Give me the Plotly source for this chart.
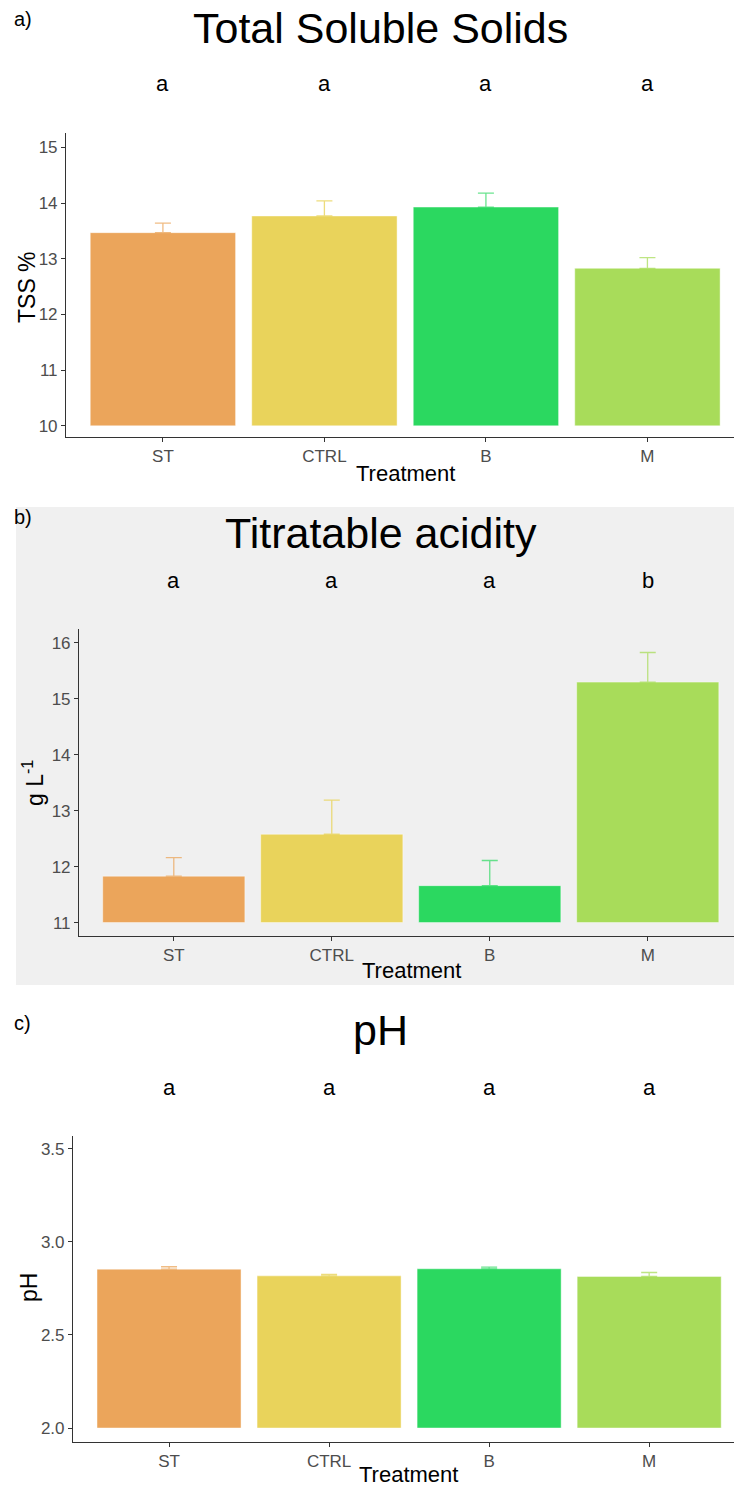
import plotly.graph_objects as go

W, H = 734, 1487

treatments = ["ST", "CTRL", "B", "M"]
bar_colors = ["#EBA55B", "#E9D35B", "#2BD860", "#A8DC5A"]
err_colors = ["rgba(235,165,91,0.75)", "rgba(233,211,91,0.8)",
              "rgba(43,216,96,0.7)", "rgba(168,220,90,0.75)"]

# Total soluble solids (%)
tss_mean = [13.47, 13.77, 13.93, 12.83]
tss_se = [0.17, 0.27, 0.25, 0.19]
tss_letters = ["a", "a", "a", "a"]

# Titratable acidity (g L-1)
ta_mean = [11.83, 12.58, 11.66, 15.30]
ta_se = [0.33, 0.61, 0.45, 0.53]
ta_letters = ["a", "a", "a", "b"]

# pH
ph_mean = [2.853, 2.817, 2.855, 2.814]
ph_se = [0.013, 0.008, 0.009, 0.021]
ph_letters = ["a", "a", "a", "a"]

FONT = "Liberation Sans, Arial, Helvetica, sans-serif"


def py(p):
    """pixel row -> paper y"""
    return 1 - p / H


def px(p):
    return p / W


panels = [
    dict(mean=tss_mean, se=tss_se, letters=tss_letters, base=10,
         title="Total Soluble Solids", ytitle="TSS %", tag="a)",
         x_left=66, y_top=133, y_bot=437, yrange=[9.8, 15.26],
         yticks=[10, 11, 12, 13, 14, 15], yfmt="d",
         xrange=[-0.6, 3.536], title_y=28, letter_y=84, tag_y=19,
         ytitle_x=27, ytitle_y=287, xtitle_y=474),
    dict(mean=ta_mean, se=ta_se, letters=ta_letters, base=11,
         title="Titratable acidity", ytitle="g L<sup>-1</sup>", tag="b)",
         x_left=79, y_top=629, y_bot=936, yrange=[10.76, 16.25],
         yticks=[11, 12, 13, 14, 15, 16], yfmt="d",
         xrange=[-0.6, 3.546], title_y=533, letter_y=580, tag_y=517,
         ytitle_x=33, ytitle_y=783, xtitle_y=970),
    dict(mean=ph_mean, se=ph_se, letters=ph_letters, base=2.0,
         title="pH", ytitle="pH", tag="c)",
         x_left=73, y_top=1136, y_bot=1442, yrange=[1.925, 3.568],
         yticks=[2.0, 2.5, 3.0, 3.5], yfmt=".1f",
         xrange=[-0.6, 3.53], title_y=1030, letter_y=1087, tag_y=1023,
         ytitle_x=29, ytitle_y=1288, xtitle_y=1474),
]

fig = go.Figure()
annotations = []
layout_axes = {}

for i, p in enumerate(panels, start=1):
    xa = "x" if i == 1 else f"x{i}"
    ya = "y" if i == 1 else f"y{i}"
    heights = [m - p["base"] for m in p["mean"]]
    fig.add_trace(go.Bar(
        x=treatments, y=heights, base=p["base"],
        marker=dict(color=bar_colors,
                    line=dict(color="rgba(255,255,255,0.45)", width=1)),
        xaxis=xa, yaxis=ya, showlegend=False, hoverinfo="skip",
    ))
    # one-sided error bars, each in a tint of its bar colour
    for t, m, s, c in zip(treatments, p["mean"], p["se"], err_colors):
        fig.add_trace(go.Scatter(
            x=[t], y=[m], mode="markers",
            marker=dict(size=1, color="rgba(0,0,0,0)"),
            error_y=dict(type="data", array=[s], arrayminus=[0],
                         symmetric=False, color=c, thickness=1.3, width=8),
            xaxis=xa, yaxis=ya, showlegend=False, hoverinfo="skip",
        ))

    axis_common = dict(showline=True, linecolor="#333333", linewidth=1.1,
                       ticks="outside", ticklen=4, tickcolor="#333333",
                       tickwidth=1, showgrid=False, zeroline=False,
                       tickfont=dict(family=FONT, size=17, color="#4d4d4d"))
    xkey = "xaxis" if i == 1 else f"xaxis{i}"
    ykey = "yaxis" if i == 1 else f"yaxis{i}"
    layout_axes[xkey] = dict(
        axis_common, domain=[px(p["x_left"]), 1], anchor=ya,
        type="category", categoryorder="array", categoryarray=treatments,
        range=p["xrange"], fixedrange=True)
    layout_axes[ykey] = dict(
        axis_common, domain=[py(p["y_bot"]), py(p["y_top"])], anchor=xa,
        range=p["yrange"], tickvals=p["yticks"], tickformat=p["yfmt"],
        fixedrange=True)

    annotations.append(dict(
        text=p["title"], x=px(380.5), y=py(p["title_y"]), xref="paper",
        yref="paper", showarrow=False, xanchor="center", yanchor="middle",
        font=dict(family=FONT, size=43, color="#000000")))
    annotations.append(dict(
        text=p["tag"], x=px(12), y=py(p["tag_y"]), xref="paper",
        yref="paper", showarrow=False, xanchor="left", yanchor="middle",
        font=dict(family=FONT, size=20, color="#000000")))
    annotations.append(dict(
        text="Treatment", x=px((p["x_left"] + 744) / 2), y=py(p["xtitle_y"]),
        xref="paper", yref="paper", showarrow=False, xanchor="center",
        yanchor="middle", font=dict(family=FONT, size=22, color="#000000")))
    annotations.append(dict(
        text=p["ytitle"], x=px(p["ytitle_x"]), y=py(p["ytitle_y"]),
        xref="paper", yref="paper", showarrow=False, textangle=-90,
        xanchor="center", yanchor="middle",
        font=dict(family=FONT, size=23, color="#000000")))
    for t, lab in zip(treatments, p["letters"]):
        annotations.append(dict(
            text=lab, x=t, y=py(p["letter_y"]), xref=xa, yref="paper",
            showarrow=False, xanchor="center", yanchor="middle",
            font=dict(family=FONT, size=22, color="#000000")))

fig.update_layout(
    width=W, height=H,
    margin=dict(l=0, r=0, t=0, b=0),
    paper_bgcolor="white", plot_bgcolor="rgba(0,0,0,0)",
    barmode="overlay", bargap=0.1,
    annotations=annotations,
    shapes=[dict(type="rect", xref="paper", yref="paper",
                 x0=px(16), x1=1, y0=py(985), y1=py(507),
                 fillcolor="#f0f0f0", line=dict(width=0), layer="below")],
    **layout_axes,
)

fig.write_html("out.html", config=dict(displayModeBar=False))
